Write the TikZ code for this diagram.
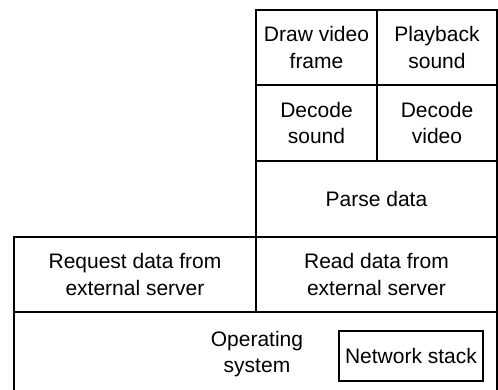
\documentclass[tikz,border=0pt]{standalone}
\usepackage{fontspec}
\setmainfont{Liberation Sans}
\begin{document}
\begin{tikzpicture}[x=1pt,y=-1pt,
  box/.style={draw, line width=1.2pt, inner sep=0pt, outer sep=0pt, align=center, font=\fontsize{21}{26.5}\selectfont},
  lbl/.style={inner sep=0pt, align=center, font=\fontsize{21}{26.5}\selectfont}]
\useasboundingbox (0,0) rectangle (498,389);
\clip (0,0) rectangle (498,389);
\node[box, minimum width=121pt, minimum height=75pt] (drawv) at (316.5,47.5) {Draw video\\frame};
\node[box, minimum width=120pt, minimum height=75pt] (play) at (437,47.5) {Playback\\sound};
\node[box, minimum width=121pt, minimum height=76pt] (decs) at (316.5,123) {Decode\\sound};
\node[box, minimum width=120pt, minimum height=76pt] (decv) at (437,123) {Decode\\video};
\node[box, minimum width=241pt, minimum height=76pt] (parse) at (376.5,199) {Parse data};
\node[box, minimum width=242pt, minimum height=75pt] (req) at (135,274.5) {Request data from\\external server};
\node[box, minimum width=241pt, minimum height=75pt] (read) at (376.5,274.5) {Read data from\\external server};
\node[box, minimum width=483pt, minimum height=88pt] (os) at (255.5,356) {};
\node[lbl] (oslabel) at (257,354) {Operating\\system};
\node[box, minimum width=144pt, minimum height=50pt] (net) at (411,356) {Network stack};
\end{tikzpicture}
\end{document}
